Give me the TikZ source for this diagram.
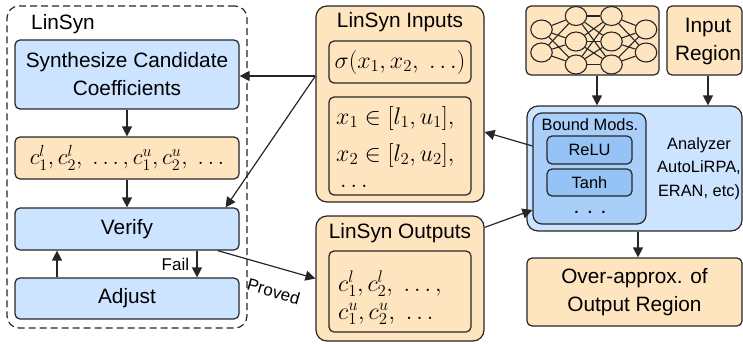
\RequirePackage{fix-cm}
\documentclass[tikz,border=0pt]{standalone}
\usepackage[no-math]{fontspec}
\setmainfont{Liberation Sans}
\usetikzlibrary{arrows.meta,shapes.geometric,calc}
\definecolor{lc}{HTML}{262626}
\definecolor{bfill}{HTML}{CCE4FF}
\definecolor{ofill}{HTML}{FFE4C0}
\definecolor{bmfill}{HTML}{A9CEFA}
\definecolor{rfill}{HTML}{96C3F5}
\newcommand{\mainsz}{\fontsize{20.8}{28}\selectfont}
\newcommand{\smallsz}{\fontsize{16.4}{23.5}\selectfont}
\newcommand{\labsz}{\fontsize{17}{20}\selectfont}
\newcommand{\mathsz}{\fontsize{24}{30}\selectfont}
\begin{document}
\begin{tikzpicture}[x=1pt,y=-1pt,
  boxbase/.style={draw=lc, line width=1.2pt, rounded corners=5pt, inner sep=0pt, font=\mainsz},
  bbox/.style={boxbase, fill=bfill},
  obox/.style={boxbase, fill=ofill},
  bigc/.style={rounded corners=11pt},
  frame/.style={draw=lc, line width=1.2pt, dash pattern=on 7pt off 4pt, rounded corners=12pt, inner sep=0pt},
  neuron/.style={ellipse, draw=lc, line width=1.1pt, minimum width=21.5pt, minimum height=19pt, inner sep=0pt},
  wire/.style={draw=lc, line width=1.1pt},
  arr/.style={draw=lc, line width=1.2pt, -{Triangle[length=10pt,width=10pt]}},
  txt/.style={inner sep=0pt, font=\mainsz},
  mline/.style={inner sep=0pt, anchor=base west, font=\mathsz}
]
\useasboundingbox (0,0) rectangle (743,343);

% ---- LinSyn frame ----
\node[frame, minimum width=240pt, minimum height=322pt] (linsyn) at (127,167) {};
\node[anchor=base west, inner sep=0pt, font=\mainsz] (linsynlbl) at (31,29) {LinSyn};
\node[bbox, minimum width=224pt, minimum height=69pt, align=center] (synth) at (127,74.5) {Synthesize Candidate\\Coefficients};
\node[obox, minimum width=224pt, minimum height=42pt, font={\fontsize{23}{28}\selectfont}] (coeff) at (127,158) {$c_1^l, c_2^l,\ \ldots, c_1^u, c_2^u,\ \ldots$};
\node[bbox, minimum width=224pt, minimum height=42pt] (verify) at (127,229) {Verify};
\node[bbox, minimum width=224pt, minimum height=41pt] (adjust) at (127,298.5) {Adjust};

\draw[arr] (synth) -- (coeff);
\draw[arr] (coeff) -- (verify);
\draw[arr] ([xshift=70pt]verify.south) -- node[left, xshift=-4pt, font=\labsz] (faillbl) {Fail} ([xshift=70pt]adjust.north);
\draw[arr] ([xshift=-70pt]adjust.north) -- ([xshift=-70pt]verify.south);

% ---- LinSyn Inputs ----
\node[obox, bigc, minimum width=168pt, minimum height=196pt] (inputs) at (400,104) {};
\node[txt] (intitle) at (400,22) {LinSyn Inputs};
\node[obox, minimum width=142pt, minimum height=42pt, font=\mathsz] (sigma) at (400,62) {$\sigma(x_1, x_2,\ \ldots)$};
\node[obox, minimum width=142pt, minimum height=98pt] (xbox) at (400,146) {};
\node[mline] (xl1) at (336,124) {$x_1\in[l_1,u_1],$};
\node[mline] (xl2) at (336,161) {$x_2\in[l_2,u_2],$};
\node[mline] (xl3) at (340,187) {$\ldots$};

% ---- LinSyn Outputs ----
\node[obox, bigc, minimum width=168pt, minimum height=125pt] (outputs) at (400,278.5) {};
\node[txt] (outtitle) at (400,233) {LinSyn Outputs};
\node[obox, minimum width=142pt, minimum height=81pt] (cbox) at (400,291.5) {};
\node[mline] (cl1) at (338,291) {$c_1^l, c_2^l,\ \ldots,$};
\node[mline] (cl2) at (338,319) {$c_1^u, c_2^u,\ \ldots$};

% ---- Neural network ----
\node[obox, minimum width=133pt, minimum height=69pt] (nn) at (592.5,40.5) {};
\node[neuron] (a1) at (541.5,29.5) {};
\node[neuron] (a2) at (541.5,52.5) {};
\node[neuron] (b1) at (576,16) {};
\node[neuron] (b2) at (576,41.5) {};
\node[neuron] (b3) at (576,64.5) {};
\node[neuron] (c1) at (611.5,16) {};
\node[neuron] (c2) at (611.5,41.5) {};
\node[neuron] (c3) at (611.5,64.5) {};
\node[neuron] (d1) at (646,29.5) {};
\node[neuron] (d2) at (646,52.5) {};
\foreach \s in {a1,a2}{\foreach \t in {b1,b2,b3}{\draw[wire] (\s) -- (\t);}}
\foreach \s in {b1,b2,b3}{\foreach \t in {c1,c2,c3}{\draw[wire] (\s) -- (\t);}}
\foreach \s in {c1,c2,c3}{\foreach \t in {d1,d2}{\draw[wire] (\s) -- (\t);}}

% ---- Input Region ----
\node[obox, minimum width=75pt, minimum height=69pt] (inreg) at (704.5,40.5) {};
\node[txt, align=center] (inregtxt) at (708,42) {Input\\Region};

% ---- Analyzer ----
\node[bbox, bigc, minimum width=215pt, minimum height=125pt] (analyzer) at (634.5,168.5) {};
\node[inner sep=0pt, font=\smallsz, align=center] (antxt) at (699,168.5) {Analyzer\\AutoLiRPA,\\ERAN, etc)};
\node[boxbase, fill=bmfill, rounded corners=9pt, minimum width=113pt, minimum height=111pt] (bound) at (589.5,168.5) {};
\node[inner sep=0pt, font=\smallsz] (btitle) at (590,125) {Bound Mods.};
\node[boxbase, fill=rfill, minimum width=85pt, minimum height=28pt, font=\smallsz] (relu) at (589.5,150) {ReLU};
\node[boxbase, fill=rfill, minimum width=85pt, minimum height=27pt, font=\smallsz] (tanh) at (589.5,182.5) {Tanh};
\node[txt] (dots) at (590,212) {. . .};

% ---- Over-approx ----
\node[obox, minimum width=215pt, minimum height=68pt, align=center] (over) at (634.5,292) {Over-approx. of\\Output Region};

% ---- connectors ----
\coordinate (src) at ([yshift=28pt]inputs.west);
\draw[arr] (src) -- (src -| synth.east);
\draw[arr] (src) -- ([xshift=-14pt]verify.north east);
\draw[arr] ([xshift=-22pt]verify.south east) -- node[sloped, below=17pt, pos=0.64, inner sep=0pt, font=\labsz] (provlbl) {Proved} (outputs.west);
\draw[arr] ([yshift=22.5pt]bound.west) -- ([yshift=-28pt]inputs.east);
\draw[arr] ([yshift=-12pt]outputs.north east) -- ([yshift=-41.5pt]bound.west);
\coordinate (nnout) at ([xshift=4.5pt]nn.south);
\draw[arr] (nnout) -- (nnout |- analyzer.north);
\coordinate (inregout) at ([xshift=3.5pt]inreg.south);
\draw[arr] (inregout) -- (inregout |- analyzer.north);
\coordinate (anout) at ([xshift=3.5pt]analyzer.south);
\draw[arr] (anout) -- (anout |- over.north);
\end{tikzpicture}
\end{document}
